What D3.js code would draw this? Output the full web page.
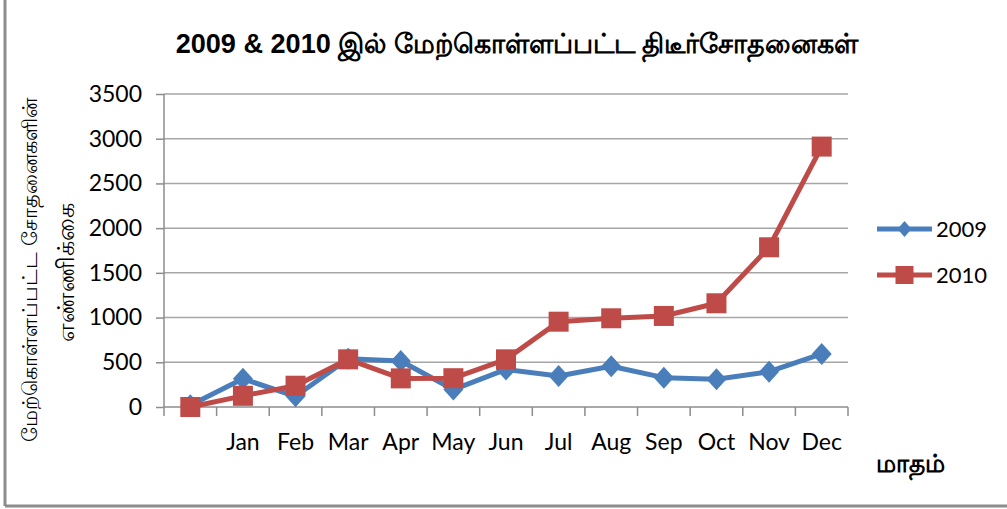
<!DOCTYPE html>
<html lang="ta">
<head>
<meta charset="UTF-8">
<title>2009 & 2010 திடீர்சோதனைகள்</title>
<script src="https://cdnjs.cloudflare.com/ajax/libs/d3/7.8.5/d3.min.js"></script>
<style>
  body { margin: 0; background: #fff; }
  svg { display: block; }
</style>
</head>
<body>
<svg id="chart" width="1007" height="509"></svg>
<script>
// data
var months = ["", "Jan", "Feb", "Mar", "Apr", "May", "Jun", "Jul", "Aug", "Sep", "Oct", "Nov", "Dec"];
var y2009 = [20, 315, 120, 540, 515, 195, 420, 347, 455, 328, 310, 395, 593];
var y2010 = [0, 125, 238, 533, 320, 322, 533, 954, 992, 1018, 1160, 1786, 2912];
var yTicks = [0, 500, 1000, 1500, 2000, 2500, 3000, 3500];

var titleText = "2009 & 2010 இல் மேற்கொள்ளப்பட்ட திடீர்சோதனைகள்";
var yTitle1 = "மேற்கொள்ளப்பட்ட சோதனைகளின்";
var yTitle2 = "எண்ணிக்கை";
var xTitle = "மாதம்";

var series = [
  { name: "2009", values: y2009, color: "#4A7EBB", marker: "diamond" },
  { name: "2010", values: y2010, color: "#BE4B48", marker: "square" }
];

var margin = { top: 94, left: 164, right: 159, bottom: 102 };
var width = 1007 - margin.left - margin.right,
    height = 509 - margin.top - margin.bottom;

var svg = d3.select("#chart");
var tickFont = "Lato, 'Open Sans', sans-serif";
var tamilFont = "'Liberation Sans', Arial, sans-serif";

// frame (only the left and bottom edges show in the picture)
svg.append("line").attr("x1", 5).attr("x2", 5).attr("y1", 0).attr("y2", 506)
  .attr("stroke", "#8c8c8c").attr("stroke-width", 3);
svg.append("line").attr("x1", 5).attr("x2", 1007).attr("y1", 506).attr("y2", 506)
  .attr("stroke", "#8c8c8c").attr("stroke-width", 3);

var x = d3.scaleBand().domain(d3.range(months.length)).range([0, width]);
var y = d3.scaleLinear().domain([0, 3500]).range([height, 0]);

var g = svg.append("g").attr("transform", "translate(" + margin.left + "," + margin.top + ")");

// gridlines
g.append("g").selectAll("line").data(yTicks.slice(1)).enter().append("line")
  .attr("x1", 0).attr("x2", width)
  .attr("y1", d => y(d)).attr("y2", d => y(d))
  .attr("stroke", "#a6a6a6").attr("stroke-width", 1.5);

// y axis
var yAxis = d3.axisLeft(y).tickValues(yTicks).tickFormat(d3.format("d")).tickSize(8).tickPadding(14);
var yG = g.append("g").call(yAxis);
yG.select(".domain").attr("stroke", "#8c8c8c").attr("stroke-width", 1.5).attr("d", "M0," + height + "V0");
yG.selectAll(".tick line").attr("stroke", "#8c8c8c").attr("stroke-width", 1.5);
yG.selectAll("text").style("font-family", tickFont).style("font-size", "23px").attr("fill", "#000");

// x axis: ticks at band edges, labels at band centers
var xAxisG = g.append("g").attr("transform", "translate(0," + height + ")");
xAxisG.append("line").attr("x1", 0).attr("x2", width).attr("y1", 0).attr("y2", 0)
  .attr("stroke", "#8c8c8c").attr("stroke-width", 1.5);
xAxisG.selectAll(".edge").data(d3.range(months.length + 1)).enter().append("line")
  .attr("class", "edge")
  .attr("x1", i => i * x.step()).attr("x2", i => i * x.step())
  .attr("y1", 0).attr("y2", 9)
  .attr("stroke", "#8c8c8c").attr("stroke-width", 1.5);
xAxisG.selectAll(".lbl").data(months).enter().append("text")
  .attr("class", "lbl")
  .attr("x", (d, i) => x(i) + x.bandwidth() / 2)
  .attr("y", 43)
  .attr("text-anchor", "middle")
  .style("font-family", tickFont).style("font-size", "23px")
  .text(d => d);

// lines and markers
var line = d3.line()
  .x((d, i) => x(i) + x.bandwidth() / 2)
  .y(d => y(d));

var diamond = "M0,-11L10,0L0,11L-10,0Z";
var square = "M-10,-10H10V10H-10Z";

series.forEach(function (s) {
  var sg = g.append("g");
  sg.append("path").datum(s.values)
    .attr("d", line)
    .attr("fill", "none")
    .attr("stroke", s.color)
    .attr("stroke-width", 5)
    .attr("stroke-linejoin", "round");
  sg.selectAll("path.m").data(s.values).enter().append("path")
    .attr("class", "m")
    .attr("transform", (d, i) => "translate(" + (x(i) + x.bandwidth() / 2) + "," + y(d) + ")")
    .attr("d", s.marker === "diamond" ? diamond : square)
    .attr("fill", s.color);
});

// legend
var legend = svg.append("g").attr("transform", "translate(877,229)");
series.forEach(function (s, i) {
  var lg = legend.append("g").attr("transform", "translate(0," + (i * 46) + ")");
  lg.append("line").attr("x1", 0).attr("x2", 55).attr("y1", 0).attr("y2", 0)
    .attr("stroke", s.color).attr("stroke-width", 5);
  lg.append("path").attr("transform", "translate(27.5,0)")
    .attr("d", s.marker === "diamond" ? "M0,-8L7,0L0,8L-7,0Z" : "M-9,-9H9V9H-9Z")
    .attr("fill", s.color);
  lg.append("text").attr("x", 59).attr("y", 8)
    .style("font-family", tickFont).style("font-size", "22px")
    .text(s.name);
});

// scale a text so it spans a given width
function fitTo(sel, target, base) {
  var w = sel.node().getComputedTextLength();
  if (w > 0) sel.style("font-size", (base * target / w) + "px");
}

// title
var title = svg.append("text")
  .attr("x", 517).attr("y", 53)
  .attr("text-anchor", "middle")
  .style("font-family", tamilFont)
  .style("font-weight", "bold").style("font-size", "24px")
  .text(titleText);
fitTo(title, 690, 24);

// axis titles
var yt1 = svg.append("text")
  .attr("transform", "translate(37,270) rotate(-90)")
  .attr("text-anchor", "middle")
  .style("font-family", tamilFont)
  .style("font-size", "16px")
  .text(yTitle1);
fitTo(yt1, 340, 16);
var yt2 = svg.append("text")
  .attr("transform", "translate(74,272) rotate(-90)")
  .attr("text-anchor", "middle")
  .style("font-family", tamilFont)
  .style("font-size", "16px")
  .text(yTitle2);
fitTo(yt2, 135, 16);

var xt = svg.append("text")
  .attr("x", 910).attr("y", 472)
  .attr("text-anchor", "middle")
  .style("font-family", tamilFont)
  .style("font-weight", "bold").style("font-size", "20px")
  .text(xTitle);
fitTo(xt, 70, 20);
</script>
</body>
</html>
